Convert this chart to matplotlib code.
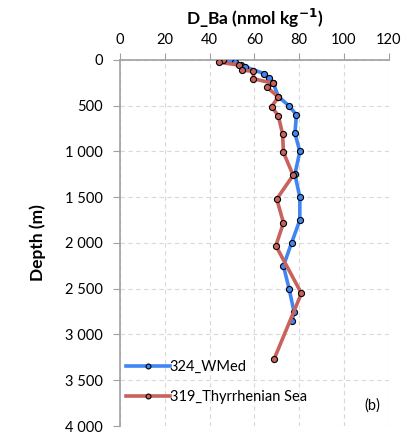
import matplotlib
matplotlib.use("Agg")
import matplotlib.pyplot as plt
from matplotlib.ticker import FuncFormatter, MultipleLocator

plt.rcParams['font.family'] = ['Lato', 'DejaVu Sans']

# ─── Data ─────────────────────────────────────────────────────────────────────
wmed_depth = [5, 25, 50, 75, 150, 200, 250, 400, 500, 600, 800, 1000,
              1250, 1500, 1750, 2000, 2250, 2500, 2750, 2850]
wmed_dba   = [46, 51.4, 54, 56, 64.4, 66.7, 68.4, 70.7, 75.4, 78.8, 78.1, 80.3,
              78.1, 80.3, 80.3, 76.6, 73, 75.5, 77.7, 77]

tyr_depth = [5, 25, 55, 110, 125, 205, 255, 300, 405, 510, 610, 810, 1010,
             1260, 1520, 1780, 2030, 2550, 3270]
tyr_dba   = [46, 44.4, 53, 54.4, 59.6, 59.6, 68.4, 65.8, 70.7, 67.7, 70.7, 72.6, 73,
             77.3, 70, 73, 69.6, 81, 68.8]

BLUE = '#3f86f2'
RED  = '#c9625b'

fig = plt.figure(figsize=(4.05, 4.41), dpi=100)
ax = fig.add_axes([0.296, 0.034, 0.664, 0.830])

ax.plot(wmed_dba, wmed_depth, color=BLUE, lw=2.6, marker='o', ms=4.4,
        mfc=BLUE, mec='black', mew=0.8, label='324_WMed', zorder=3)
ax.plot(tyr_dba, tyr_depth, color=RED, lw=2.6, marker='o', ms=4.4,
        mfc=RED, mec='black', mew=0.8, label='319_Thyrrhenian Sea', zorder=4)

ax.set_xlim(0, 120)
ax.set_ylim(4000, 0)
ax.xaxis.set_major_locator(MultipleLocator(20))
ax.yaxis.set_major_locator(MultipleLocator(500))
ax.yaxis.set_major_formatter(FuncFormatter(lambda v, p: f'{int(v):,}'.replace(',', ' ')))
ax.xaxis.tick_top()
ax.tick_params(axis='both', labelsize=10.5, color='#a0a0a0', length=5, width=0.8,
               direction='out')
ax.tick_params(axis='y', pad=7)
ax.tick_params(axis='x', pad=4)

ax.grid(True, color='#d9d9d9', ls=(0, (4, 3)), lw=0.8)
ax.set_axisbelow(True)
for s in ['right', 'bottom']:
    ax.spines[s].set_visible(False)
for s in ['left', 'top']:
    ax.spines[s].set_color('#a0a0a0')
    ax.spines[s].set_linewidth(1.2)

ax.set_ylabel('Depth (m)', fontsize=12.5, fontweight='bold', labelpad=14)
fig.text(0.628, 0.958, 'D_Ba (nmol kg$^{\\mathbf{-1}}$)', fontsize=12.5,
         fontweight='bold', ha='center', va='center')

leg = ax.legend(loc='lower left', bbox_to_anchor=(-0.01, 0.035), frameon=False,
                fontsize=10.5, handlelength=3.0, handletextpad=0.0,
                labelspacing=1.15, borderaxespad=0.2)
for h in leg.legend_handles:
    h.set_markersize(3.5)

ax.text(0.97, 0.057, '(b)', transform=ax.transAxes, fontsize=10.5,
        ha='right', va='center')

fig.savefig('out.png', dpi=100)
